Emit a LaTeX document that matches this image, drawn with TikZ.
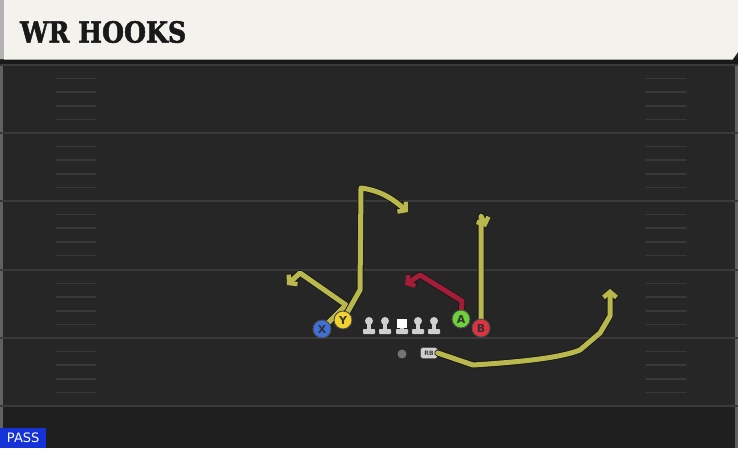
\documentclass[tikz,border=0pt]{standalone}
\usepackage{fontspec}
\setmainfont{DejaVu Sans}
\newfontfamily\titlefont[FakeBold=2]{DejaVu Serif Bold}
\usetikzlibrary{arrows.meta}
\definecolor{fieldbg}{HTML}{262626}
\definecolor{fieldlow}{HTML}{1F1F1F}
\definecolor{yardline}{HTML}{3A3A3A}
\definecolor{hashc}{HTML}{393939}
\definecolor{cream}{HTML}{F4F2EC}
\definecolor{routey}{HTML}{B9B84C}
\definecolor{router}{HTML}{A31D38}
\definecolor{cx}{HTML}{3F6FD8}
\definecolor{cy}{HTML}{F1D22F}
\definecolor{ca}{HTML}{6CD13B}
\definecolor{cb}{HTML}{E1313E}
\definecolor{lineg}{HTML}{CFCFCF}
\definecolor{passblue}{HTML}{1432D8}
\tikzset{
  x=1pt, y=-1pt,
  route/.style={draw=#1, line width=5pt, line join=round, line cap=round,
    -{Straight Barb[length=5.5pt,width=13pt,line width=4.4pt]},
    preaction={draw=black!90, line width=6.8pt, line join=round, line cap=round,
      -{Straight Barb[length=5.5pt,width=13pt,line width=6.2pt]}}},
  player/.style={circle, fill=#1, draw=black!70, line width=0.9pt, minimum size=18pt,
    inner sep=0pt, font=\bfseries\fontsize{11}{11}\selectfont, text=black!80},
  yard/.style={draw=yardline, line width=2.2pt},
  hashm/.style={draw=hashc, line width=1.6pt, line cap=round},
  pics/lineman/.style={code={
    \fill[lineg] (0,-4) circle (4pt);
    \fill[lineg] (-2.3,-4) rectangle (2.3,5);
    \fill[lineg, rounded corners=0.8pt] (-6,4) rectangle (6,9);
  }},
  pics/center/.style={code={
    \fill[white] (-4.8,-6.5) rectangle (4.8,3);
    \fill[lineg] (-2.3,3) rectangle (2.3,5);
    \fill[lineg, rounded corners=0.8pt] (-6,4) rectangle (6,9);
  }}
}
\begin{document}
\begin{tikzpicture}
\useasboundingbox (0,0) rectangle (738,448);
% field
\fill[fieldbg] (0,0) rectangle (738,448);
\fill[fieldlow] (0,407) rectangle (738,448);
\fill[yardline!80] (0,60) rectangle (3,448);
\fill[yardline!80] (735,60) rectangle (738,448);
% yard lines
\foreach \yy in {65,133,201,270,338,406} \draw[yard] (0,\yy) -- (738,\yy);
% hash marks
\foreach \yy in {65,133,201,270,338} {
  \foreach \k in {13.6,27.2,40.8,54.4} {
    \draw[hashm] (56,\yy+\k) -- (96,\yy+\k);
    \draw[hashm] (646,\yy+\k) -- (686,\yy+\k);
  }
}
% header
\fill[black!90] (0,58) rectangle (738,64);
\fill[cream] (0,0) -- (738,0) -- (738,52) -- (733,59) -- (0,59) -- cycle;
\fill[black!30] (0,0) rectangle (4,59);
\draw[black!35, line width=0.8pt] (4,59) -- (733,59);
\node[anchor=west, inner sep=0pt, font=\titlefont\fontsize{29}{29}\selectfont, text=black!90, xscale=0.87] (title) at (20,32) {WR HOOKS};
% PASS tag
\node[anchor=south west, fill=passblue, text=white, inner sep=0pt, minimum width=46pt, minimum height=20pt,
  font=\fontsize{13}{13}\selectfont] (pass) at (0,448) {PASS};
% linemen
\pic at (369,325) {lineman};
\pic at (385,325) {lineman};
\pic at (402,325) {center};
\pic at (418,325) {lineman};
\pic at (434,325) {lineman};
% ball and RB
\node[circle, fill=black!55, minimum size=9pt, inner sep=0pt] (ball) at (402,354) {};
\node[rounded corners=2.5pt, fill=lineg, draw=black!70, line width=0.5pt, minimum width=17pt, minimum height=11pt,
  inner sep=0pt, font=\bfseries\fontsize{6}{6}\selectfont, text=black!75] (rb) at (429,353) {RB};
% route waypoints
\coordinate (xj) at (346,305);
\coordinate (x1) at (300,273);
\coordinate (x2) at (287,285);
\coordinate (y1) at (360,290);
\coordinate (y2) at (361,188);
\coordinate (y3) at (408,212);
\coordinate (a1) at (462,301);
\coordinate (a2) at (420,275);
\coordinate (a3) at (405,285);
\coordinate (b1) at (481,216);
\coordinate (b2) at (486,227);
\coordinate (r1) at (473,365);
\coordinate (r2) at (580,350);
\coordinate (r3) at (600,333);
\coordinate (r4) at (610,316);
\coordinate (r5) at (610,289);
% players (positions)
\coordinate (px) at (322,329);
\coordinate (py) at (343,320);
\coordinate (pa) at (461,319);
\coordinate (pb) at (481,328);
% routes
\draw[route=routey] (px) -- (xj) -- (x1) -- (x2);
\draw[route=routey] (py) -- (y1) -- (y2) .. controls (384,191) and (396,202) .. (y3);
\draw[route=router] (pa) -- (a1) -- (a2) -- (a3);
\draw[route=routey] (pb) -- (b1) -- (b2);
\draw[route=routey] (rb.east) -- (r1) .. controls (520,362) and (560,358) .. (r2) -- (r3) -- (r4) -- (r5);
% player circles
\node[player=cx] (X) at (px) {X};
\node[player=cy] (Y) at (py) {Y};
\node[player=ca] (A) at (pa) {A};
\node[player=cb] (B) at (pb) {B};
\end{tikzpicture}
\end{document}
